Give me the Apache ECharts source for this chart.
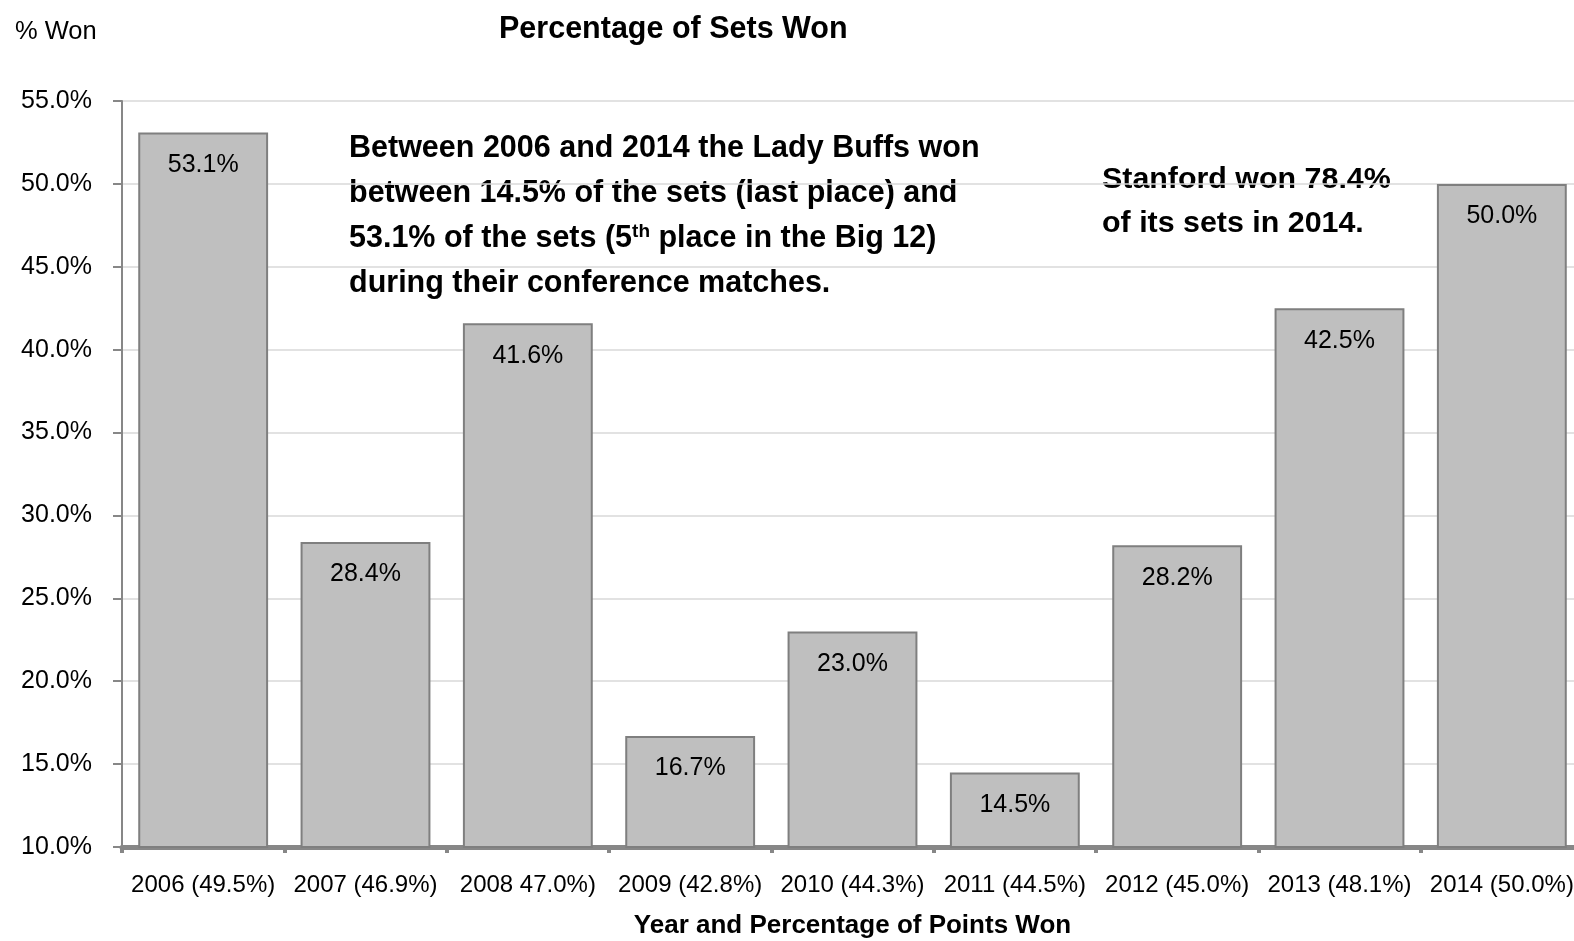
<!DOCTYPE html>
<html>
<head>
<meta charset="utf-8">
<script src="https://cdn.jsdelivr.net/npm/echarts@6/dist/echarts.min.js"></script>
<style>
html,body{margin:0;padding:0;background:#fff;}
#chart{width:1574px;height:941px;}
</style>
</head>
<body>
<div id="chart"></div>
<script>
var categories = ['2006 (49.5%)','2007 (46.9%)','2008 47.0%)','2009 (42.8%)','2010 (44.3%)','2011 (44.5%)','2012 (45.0%)','2013 (48.1%)','2014 (50.0%)'];
var setsWon = [53.1, 28.4, 41.6, 16.7, 23.0, 14.5, 28.2, 42.5, 50.0];
var yTicks = {min: 10, max: 55, interval: 5};

var FONT = "'Liberation Sans','Arial',sans-serif";
var chart = echarts.init(document.getElementById('chart'));
chart.setOption({
  animation: false,
  backgroundColor: '#ffffff',
  title: {
    text: 'Percentage of Sets Won',
    left: 499, top: 14, padding: 0,
    textStyle: {fontFamily: FONT, fontSize: 30.5, fontWeight: 'bold', color: '#000'}
  },
  grid: {left: 122, right: -9, top: 101, bottom: 94, containLabel: false, outerBoundsMode: 'none'},
  xAxis: {
    type: 'category',
    data: categories,
    name: 'Year and Percentage of Points Won',
    nameLocation: 'middle',
    nameGap: 66,
    nameTextStyle: {fontFamily: FONT, fontSize: 26, fontWeight: 'bold', color: '#000'},
    axisLine: {lineStyle: {color: '#878787', width: 5}},
    axisTick: {show: true, length: 6, lineStyle: {color: '#878787', width: 4}},
    axisLabel: {fontFamily: FONT, fontSize: 24, color: '#000', margin: 26, interval: 0}
  },
  yAxis: {
    type: 'value',
    min: yTicks.min, max: yTicks.max, interval: yTicks.interval,
    axisLine: {show: true, lineStyle: {color: '#878787', width: 2}},
    axisTick: {show: true, length: 9, lineStyle: {color: '#878787', width: 2}},
    splitLine: {lineStyle: {color: '#d9d9d9', width: 1.5}},
    axisLabel: {fontFamily: FONT, fontSize: 25, color: '#000', margin: 30,
      formatter: function (v) { return v.toFixed(1) + '%'; }}
  },
  series: [{
    type: 'bar',
    data: setsWon,
    barCategoryGap: '20%',
    itemStyle: {color: '#bfbfbf', borderColor: '#7f7f7f', borderWidth: 2},
    label: {
      show: true, position: 'insideTop', distance: 20,
      fontFamily: FONT, fontSize: 25, color: '#000',
      formatter: function (p) { return p.value.toFixed(1) + '%'; }
    }
  }],
  graphic: [
    {type: 'text', left: 15, top: 19,
      style: {text: '% Won', fontFamily: FONT, fontSize: 25.5, fill: '#000'}},
    {type: 'text', left: 349, top: 133,
      style: {
        text: '{a|Between 2006 and 2014 the Lady Buffs won}\n{a|between 14.5% of the sets (last place) and}\n{a|53.1% of the sets (5}{s|th}{a| place in the Big 12)}\n{a|during their conference matches.}',
        rich: {
          a: {fontFamily: FONT, fontSize: 30.5, fontWeight: 'bold', fill: '#000', lineHeight: 45},
          s: {fontFamily: FONT, fontSize: 19, fontWeight: 'bold', fill: '#000', lineHeight: 45, padding: [0, 0, 14, 0]}
        }
      }},
    {type: 'text', left: 1102, top: 158,
      style: {
        text: 'Stanford won 78.4%\nof its sets in 2014.',
        fontFamily: FONT, fontSize: 30.4, fontWeight: 'bold', fill: '#000', lineHeight: 44
      }}
  ]
});
</script>
</body>
</html>
